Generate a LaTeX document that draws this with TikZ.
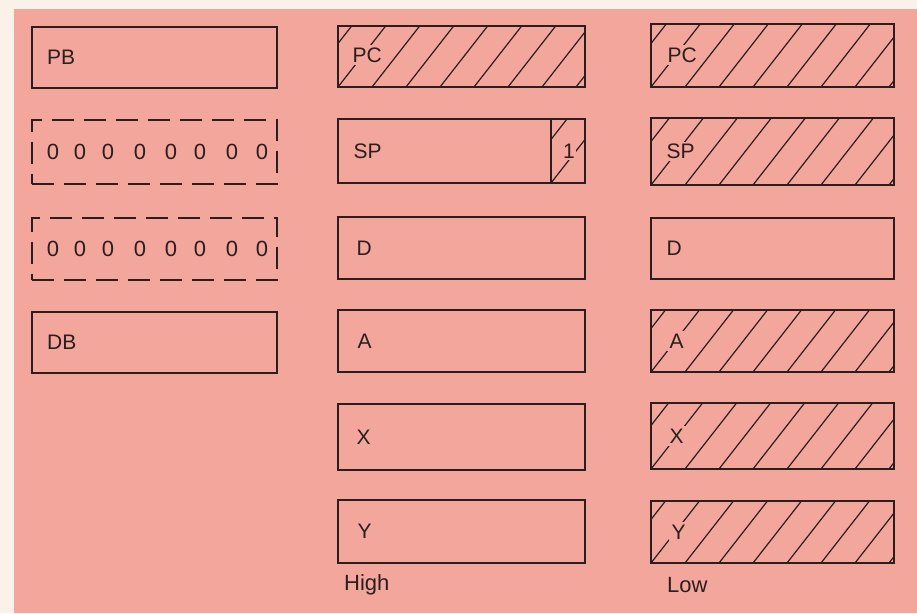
\documentclass[tikz,border=0pt]{standalone}
\usepackage{fontspec}
\setmainfont{Liberation Sans}
\usetikzlibrary{calc}
\definecolor{bgpink}{RGB}{243,166,156}
\definecolor{outerc}{RGB}{250,241,233}
\definecolor{inkc}{RGB}{42,30,30}
\tikzset{
  reg/.style={draw=inkc, line width=2.2pt, rectangle, inner sep=0pt},
  dashreg/.style={draw=inkc, line width=2.4pt, rectangle, inner sep=0pt, dash pattern=on 22pt off 10pt},
  hatchline/.style={draw=inkc, line width=1.2pt},
  hatched/.style={path picture={
    \foreach \k in {-3,...,8}
      \draw[hatchline] ($(path picture bounding box.south west)+(\k*34pt,0pt)$) -- ++(52:140pt);
  }},
  lbl/.style={font=\fontsize{21}{23}\selectfont, text=inkc, fill=bgpink, inner sep=2.5pt, anchor=west},
  digit/.style={font=\fontsize{22}{24}\selectfont, text=inkc, inner sep=0pt},
  caption/.style={font=\fontsize{22}{24}\selectfont, text=inkc, inner sep=0pt, anchor=west}
}
\begin{document}
\begin{tikzpicture}[x=1pt,y=-1pt]
\useasboundingbox (0,0) rectangle (917,613);
\fill[outerc] (0,0) rectangle (917,613);
\fill[bgpink] (14,9) rectangle (917,613);

% column 1
\node[reg, minimum width=245pt, minimum height=61pt] (pb) at (154.5,57.5) {};
\node[dashreg, minimum width=245pt, minimum height=64pt] (zr1) at (154.5,152) {};
\node[dashreg, minimum width=245pt, minimum height=62pt] (zr2) at (154.5,249) {};
\node[reg, minimum width=245pt, minimum height=61pt] (db) at (154.5,342.5) {};
\node[lbl] (pbt) at (44.5,57.5) {PB};
\node[lbl] (dbt) at (44.5,342.5) {DB};
\foreach \x [count=\i] in {53,80,108,140,171,200,232,262} {
  \node[digit] (za\i) at (\x,152) {0};
  \node[digit] (zb\i) at (\x,249) {0};
}

% column 2 (High)
\node[reg, hatched, minimum width=247pt, minimum height=61pt] (pch) at (461.5,56.5) {};
\node[reg, minimum width=247pt, minimum height=64pt] (sph) at (461.5,151) {};
\node[reg, hatched, minimum width=34pt, minimum height=64pt] (sp1) at (568,151) {};
\node[reg, minimum width=247pt, minimum height=62pt] (dh) at (461.5,248) {};
\node[reg, minimum width=247pt, minimum height=62pt] (ah) at (461.5,341) {};
\node[reg, minimum width=247pt, minimum height=66pt] (xh) at (461.5,437) {};
\node[reg, minimum width=247pt, minimum height=63pt] (yh) at (461.5,531.5) {};
\node[lbl] (pcht) at (350,55) {PC};
\node[lbl] (spht) at (351,151) {SP};
\node[lbl, inner sep=1.5pt, anchor=center] (sp1t) at (569,151) {1};
\node[lbl] (dht) at (354,248) {D};
\node[lbl] (aht) at (355,341) {A};
\node[lbl] (xht) at (354,437) {X};
\node[lbl] (yht) at (355,531.5) {Y};
\node[caption] (high) at (344,585) {High};

% column 3 (Low)
\node[reg, hatched, minimum width=243pt, minimum height=63pt] (pcl) at (772.5,55.5) {};
\node[reg, hatched, minimum width=243pt, minimum height=67pt] (spl) at (772.5,151.5) {};
\node[reg, minimum width=243pt, minimum height=61pt] (dl) at (772.5,248.5) {};
\node[reg, hatched, minimum width=243pt, minimum height=62pt] (al) at (772.5,341) {};
\node[reg, hatched, minimum width=243pt, minimum height=66pt] (xl) at (772.5,436) {};
\node[reg, hatched, minimum width=243pt, minimum height=62pt] (yl) at (772.5,532) {};
\node[lbl] (pclt) at (665,55) {PC};
\node[lbl] (splt) at (664,151.5) {SP};
\node[lbl] (dlt) at (664,248.5) {D};
\node[lbl] (alt) at (667,341) {A};
\node[lbl] (xlt) at (667,436) {X};
\node[lbl] (ylt) at (669,532) {Y};
\node[caption] (low) at (667,585) {Low};
\end{tikzpicture}
\end{document}
